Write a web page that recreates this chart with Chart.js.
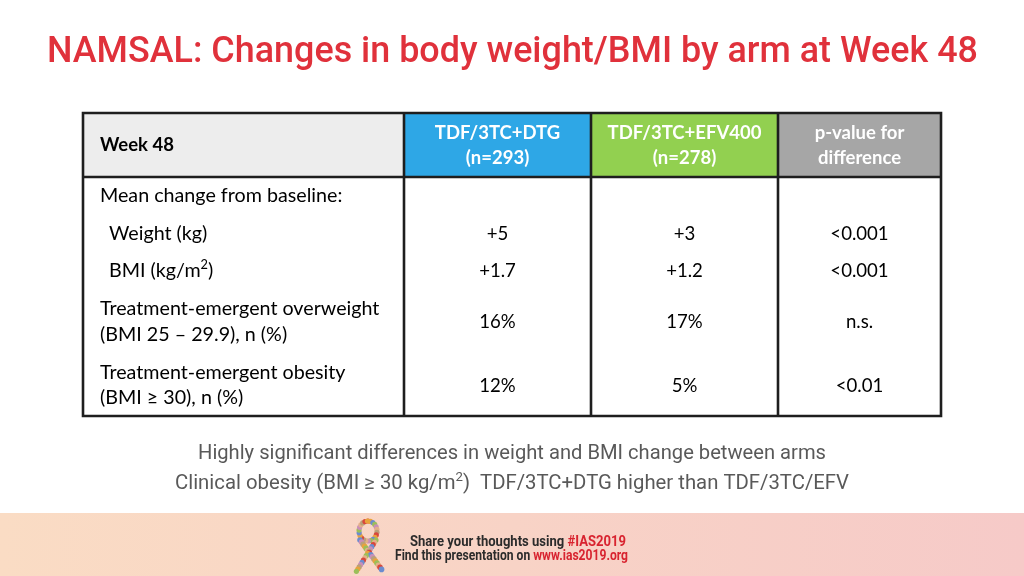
<!DOCTYPE html>
<html>
<head>
<meta charset="utf-8">
<script src="https://cdn.jsdelivr.net/npm/chart.js@4"></script>
<style>
  html, body { margin: 0; padding: 0; background: #fff; }
  canvas { display: block; }
</style>
</head>
<body>
<canvas id="namsalTable" width="1024" height="576"></canvas>
<script>
// table content
const cornerLabel = 'Week 48';
const armLabels = [['TDF/3TC+DTG', '(n=293)'], ['TDF/3TC+EFV400', '(n=278)'], ['p-value for', 'difference']];
const rowLabels = [
  ['Mean change from baseline:'],
  ['Weight (kg)'],
  ['BMI (kg/m²)'],
  ['Treatment-emergent overweight', '(BMI 25 – 29.9), n (%)'],
  ['Treatment-emergent obesity', '(BMI ≥ 30), n (%)']
];
const rowIndent = [false, true, true, false, false];
const dtgValues = ['', '+5', '+1.7', '16%', '12%'];
const efvValues = ['', '+3', '+1.2', '17%', '5%'];
const pValues = ['', '<0.001', '<0.001', 'n.s.', '<0.01'];

const title = 'NAMSAL: Changes in body weight/BMI by arm at Week 48';
const notes = [
  'Highly significant differences in weight and BMI change between arms',
  'Clinical obesity (BMI ≥ 30 kg/m²)  TDF/3TC+DTG higher than TDF/3TC/EFV'
];

// layout (table units = px inside the table box)
const colEdges = [0, 321, 508, 695, 858];
const headerH = 64;
const rowCenters = [[83], [121], [158], [196, 222], [260, 285]];
const headerColors = ['#EDEDED', '#2EA7E6', '#92D050', '#A6A6A6'];
const FONT = 'Lato, "Open Sans", sans-serif';

// draws text, putting "²" as a small raised 2
function richWidth(ctx, text, size, weight) {
  let w = 0;
  for (const part of text.split(/(²)/)) {
    if (!part) continue;
    if (part === '²') { ctx.font = `${weight} ${size * 0.65}px ${FONT}`; w += ctx.measureText('2').width; }
    else { ctx.font = `${weight} ${size}px ${FONT}`; w += ctx.measureText(part).width; }
  }
  return w;
}
function richText(ctx, text, x, y, size, weight, align) {
  let cx = align === 'center' ? x - richWidth(ctx, text, size, weight) / 2 : x;
  ctx.textAlign = 'left';
  ctx.textBaseline = 'middle';
  for (const part of text.split(/(²)/)) {
    if (!part) continue;
    if (part === '²') {
      ctx.font = `${weight} ${size * 0.65}px ${FONT}`;
      ctx.fillText('2', cx, y - size * 0.3);
      cx += ctx.measureText('2').width;
    } else {
      ctx.font = `${weight} ${size}px ${FONT}`;
      ctx.fillText(part, cx, y);
      cx += ctx.measureText(part).width;
    }
  }
}

// text squeezed to a given width (condensed fonts are not installed)
function squeezed(ctx, segments, cx, y, width, font) {
  ctx.font = font;
  const total = segments.reduce((s, g) => s + ctx.measureText(g[0]).width, 0);
  const sx = width / total;
  ctx.save();
  ctx.translate(cx - width / 2, y);
  ctx.scale(sx, 1);
  ctx.textAlign = 'left';
  ctx.textBaseline = 'alphabetic';
  let x = 0;
  segments.forEach(([t, color]) => {
    ctx.fillStyle = color;
    ctx.fillText(t, x, 0);
    x += ctx.measureText(t).width;
  });
  ctx.restore();
}

const slidePlugin = {
  id: 'slide',
  beforeDraw(chart) {
    const ctx = chart.ctx;
    ctx.save();
    // footer band
    const g = ctx.createLinearGradient(0, 0, 1024, 0);
    g.addColorStop(0, '#FADCC4');
    g.addColorStop(1, '#F6CAC8');
    ctx.fillStyle = g;
    ctx.fillRect(0, 513, 1024, 63);
    // ribbon made of small beads
    const beads = ['#D9473C', '#E8A33C', '#6B8CCF', '#9BBF5A', '#C98FB8', '#E3B08A', '#B9A07A'];
    let k = 0;
    for (let t = 0; t <= 1; t += 0.045) {
      const a = Math.PI * 2 * t - Math.PI / 2;
      const px = 368 + 9 * Math.cos(a);
      const py = 533 + 10 * Math.sin(a) - 2;
      ctx.fillStyle = beads[k++ % beads.length];
      ctx.beginPath(); ctx.arc(px, py, 2.6, 0, Math.PI * 2); ctx.fill();
    }
    for (let t = 0; t <= 1; t += 0.07) {
      ctx.fillStyle = beads[k++ % beads.length];
      ctx.beginPath(); ctx.arc(360 + 22 * t, 540 + 30 * t, 2.8, 0, Math.PI * 2); ctx.fill();
      ctx.fillStyle = beads[k++ % beads.length];
      ctx.beginPath(); ctx.arc(376 - 20 * t, 540 + 32 * t, 2.6, 0, Math.PI * 2); ctx.fill();
    }
    squeezed(ctx, [['Share your thoughts using ', '#2B2B2B'], ['#IAS2019', '#D8232F']], 518, 546, 216, `bold 14px Roboto`);
    squeezed(ctx, [['Find this presentation on ', '#2B2B2B'], ['www.ias2019.org', '#D8232F']], 511.5, 560, 233, `bold 14px Roboto`);
    // title
    squeezed(ctx, [[title, '#E0313B']], 512.5, 62, 931, '500 36px Roboto');
    // notes below the table
    squeezed(ctx, [[notes[0], '#595959']], 512, 459, 628, '20px Roboto');
    ctx.restore();
    // second note has a superscript, draw it in two pieces
    ctx.save();
    const a = 'Clinical obesity (BMI ≥ 30 kg/m', b = ')  TDF/3TC+DTG higher than TDF/3TC/EFV';
    ctx.font = '20px Roboto'; const wa = ctx.measureText(a).width, wb = ctx.measureText(b).width;
    ctx.font = '13px Roboto'; const ws = ctx.measureText('2').width;
    const sx = 674 / (wa + wb + ws);
    ctx.translate(175, 489); ctx.scale(sx, 1);
    ctx.fillStyle = '#595959'; ctx.textBaseline = 'alphabetic';
    ctx.font = '20px Roboto'; ctx.fillText(a, 0, 0);
    ctx.font = '13px Roboto'; ctx.fillText('2', wa, -8);
    ctx.font = '20px Roboto'; ctx.fillText(b, wa + ws, 0);
    ctx.restore();
  },
  afterDatasetsDraw(chart) {
    const ctx = chart.ctx;
    const xs = chart.scales.x, ys = chart.scales.y;
    const X = v => xs.getPixelForValue(v), Y = v => ys.getPixelForValue(v);
    ctx.save();
    // header texts
    ctx.fillStyle = '#000';
    richText(ctx, cornerLabel, X(17), Y(headerH / 2), 18.5, 'bold', 'left');
    ctx.fillStyle = '#fff';
    armLabels.forEach((lines, i) => {
      const cx = X((colEdges[i + 1] + colEdges[i + 2]) / 2);
      richText(ctx, lines[0], cx, Y(20), 18.5, 'bold', 'center');
      richText(ctx, lines[1], cx, Y(45), 18.5, 'bold', 'center');
    });
    // body
    ctx.fillStyle = '#000';
    const cols = [dtgValues, efvValues, pValues];
    rowLabels.forEach((lines, r) => {
      lines.forEach((t, j) => richText(ctx, t, X(rowIndent[r] ? 26 : 17), Y(rowCenters[r][j]), 19.7, 'normal', 'left'));
      const mid = rowCenters[r].length > 1 ? (rowCenters[r][0] + rowCenters[r][1]) / 2 : rowCenters[r][0];
      cols.forEach((vals, c) => {
        if (vals[r]) richText(ctx, vals[r], X((colEdges[c + 1] + colEdges[c + 2]) / 2), Y(mid), 18.6, 'normal', 'center');
      });
    });
    // grid lines
    ctx.strokeStyle = '#1E1E1E';
    ctx.lineWidth = 2.6;
    ctx.lineCap = 'square';
    ctx.beginPath();
    ctx.rect(X(0), Y(0), X(858) - X(0), Y(303) - Y(0));
    ctx.moveTo(X(0), Y(headerH)); ctx.lineTo(X(858), Y(headerH));
    colEdges.slice(1, -1).forEach(e => { ctx.moveTo(X(e), Y(0)); ctx.lineTo(X(e), Y(303)); });
    ctx.stroke();
    ctx.restore();
  }
};

new Chart(document.getElementById('namsalTable'), {
  type: 'bar',
  data: {
    datasets: [{
      data: colEdges.slice(0, -1).map((e, i) => ({ x: [e, colEdges[i + 1]], y: headerH / 2 })),
      backgroundColor: headerColors,
      borderWidth: 0,
      barThickness: headerH
    }]
  },
  options: {
    indexAxis: 'y',
    responsive: false,
    animation: false,
    layout: { padding: { left: 83, right: 83, top: 113, bottom: 160 } },
    scales: {
      x: { type: 'linear', min: 0, max: 858, display: false, offset: false },
      y: { type: 'linear', min: 0, max: 303, reverse: true, display: false, offset: false }
    },
    plugins: { legend: { display: false }, tooltip: { enabled: false }, title: { display: false } }
  },
  plugins: [slidePlugin]
});
</script>
</body>
</html>
